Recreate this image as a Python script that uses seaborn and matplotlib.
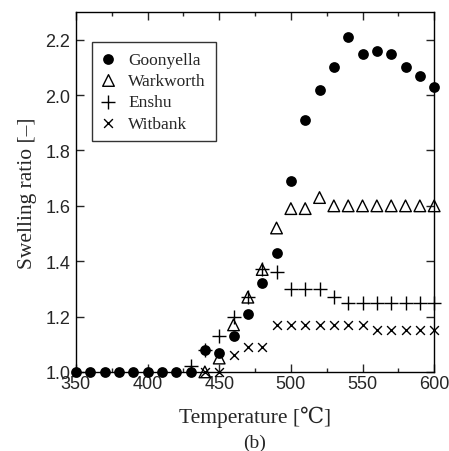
import numpy as np
import pandas as pd
import matplotlib
matplotlib.use("Agg")
import matplotlib.pyplot as plt
import seaborn as sns

# === Data
temp_goonyella = list(range(350, 601, 10))
goonyella = [1.00, 1.00, 1.00, 1.00, 1.00, 1.00, 1.00, 1.00, 1.00, 1.08, 1.07,
             1.13, 1.21, 1.32, 1.43, 1.69, 1.91, 2.02, 2.10, 2.21, 2.15, 2.16,
             2.15, 2.10, 2.07, 2.03]

temp_warkworth = list(range(440, 601, 10))
warkworth = [1.00, 1.05, 1.17, 1.27, 1.37, 1.52, 1.59, 1.59, 1.63, 1.60, 1.60,
             1.60, 1.60, 1.60, 1.60, 1.60, 1.60]

temp_enshu = list(range(430, 601, 10))
enshu = [1.02, 1.08, 1.13, 1.20, 1.27, 1.37, 1.36, 1.30, 1.30, 1.30, 1.27, 1.25,
         1.25, 1.25, 1.25, 1.25, 1.25, 1.25]

temp_witbank = list(range(440, 601, 10))
witbank = [1.00, 1.00, 1.06, 1.09, 1.09, 1.17, 1.17, 1.17, 1.17, 1.17, 1.17,
           1.17, 1.15, 1.15, 1.15, 1.15, 1.15]

# === Style
sns.set_style("ticks")
plt.rcParams["font.family"] = ["Liberation Sans", "DejaVu Sans"]
plt.rcParams["xtick.direction"] = "in"
plt.rcParams["ytick.direction"] = "in"
plt.rcParams["axes.linewidth"] = 1.0

fig = plt.figure(figsize=(4.49, 4.52), dpi=100)
ax = fig.add_axes([0.169, 0.175, 0.798, 0.796])

serif = ["Liberation Serif", "DejaVu Serif"]

# === Series
sns.scatterplot(x=temp_warkworth, y=warkworth, marker="^", s=70,
                facecolor="none", edgecolor="black", linewidth=1.0,
                label="Warkworth", ax=ax, clip_on=False, zorder=3)
sns.scatterplot(x=temp_enshu, y=enshu, marker="+", s=90, color="black",
                linewidth=1.0, label="Enshu", ax=ax, clip_on=False, zorder=3)
sns.scatterplot(x=temp_witbank, y=witbank, marker="x", s=40, color="black",
                linewidth=1.0, label="Witbank", ax=ax, clip_on=False, zorder=3)
sns.scatterplot(x=temp_goonyella, y=goonyella, marker="o", s=60, color="black",
                edgecolor="black", linewidth=0, label="Goonyella", ax=ax,
                clip_on=False, zorder=4)

ax.set_xlim(350, 600)
ax.set_ylim(1.0, 2.3)
ax.set_xticks(np.arange(350, 601, 50))
ax.set_xticks(np.arange(350, 601, 25), minor=True)
ax.set_yticks(np.arange(1.0, 2.21, 0.2))
ax.set_yticklabels([f"{v:.1f}" for v in np.arange(1.0, 2.21, 0.2)])
ax.tick_params(which="both", top=True, right=True, labelsize=13, width=1.0)
ax.tick_params(which="major", length=6)
ax.tick_params(which="minor", length=3)
ax.tick_params(axis="x", pad=2)
ax.tick_params(axis="y", pad=4)
for s in ax.spines.values():
    s.set_visible(True)
    s.set_color("black")

ax.set_xlabel("Temperature [\u2103]", fontsize=15.5, family=serif, labelpad=10)
ax.set_ylabel("Swelling ratio [\u2013]", fontsize=15.5, family=serif, labelpad=6)

# === Legend in the original order
handles, labels = ax.get_legend_handles_labels()
order = ["Goonyella", "Warkworth", "Enshu", "Witbank"]
hmap = dict(zip(labels, handles))
leg = ax.legend([hmap[k] for k in order], order, loc="upper left",
                bbox_to_anchor=(0.045, 0.917), borderaxespad=0, fancybox=False,
                frameon=True, edgecolor="black", prop={"family": serif, "size": 12.5},
                handletextpad=0.75, labelspacing=0.3, borderpad=0.55,
                handlelength=0.8)
leg.get_frame().set_linewidth(1.0)

fig.text(0.567, 0.02, "(b)", ha="center", va="center", fontsize=14, family=serif)

plt.savefig("out.png", dpi=100)
plt.close()
